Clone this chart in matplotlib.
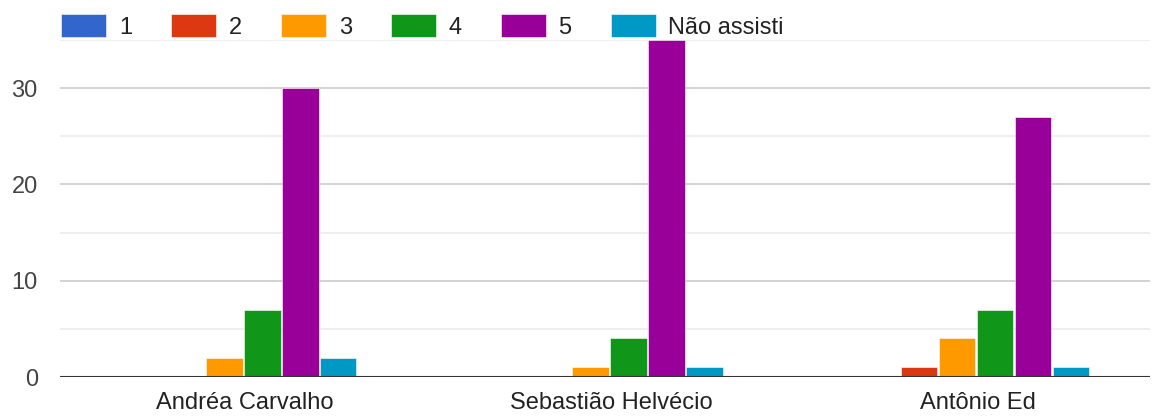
import numpy as np
import matplotlib
matplotlib.use('Agg')
import matplotlib.pyplot as plt
from matplotlib.ticker import MultipleLocator

# respostas por palestrante
palestrantes = ['Andréa Carvalho', 'Sebastião Helvécio', 'Antônio Ed']
notas = ['1', '2', '3', '4', '5', 'Não assisti']
contagens = {
    '1': [0, 0, 0],
    '2': [0, 0, 1],
    '3': [2, 1, 4],
    '4': [7, 4, 7],
    '5': [30, 35, 27],
    'Não assisti': [2, 1, 1],
}
cores = ['#3366cc', '#dc3912', '#ff9900', '#109618', '#990099', '#0099c6']

plt.rcParams['font.family'] = ['Liberation Sans', 'DejaVu Sans']

fig = plt.figure(figsize=(11.59, 4.16), dpi=100)
ax = fig.add_axes([60 / 1159, 1 - 377 / 416, 1090 / 1159, 337 / 416])

x = np.arange(len(palestrantes))
passo = 0.1037
largura = 0.1
desvio = -0.005  # grupos levemente deslocados para a esquerda
for i, nota in enumerate(notas):
    ax.bar(x + desvio + (i - 2.5) * passo, contagens[nota], width=largura,
           color=cores[i], edgecolor='white', linewidth=0.4, label=nota, zorder=3)

ax.set_xlim(-0.505, 2.47)
ax.set_ylim(0, 35)
ax.yaxis.set_major_locator(MultipleLocator(10))
ax.yaxis.set_minor_locator(MultipleLocator(5))
ax.grid(axis='y', which='major', color='#cccccc', linewidth=1.2, zorder=0)
ax.grid(axis='y', which='minor', color='#ebebeb', linewidth=1.2, zorder=0)
ax.axhline(0, color='#333333', linewidth=1.5, zorder=4)

for s in ax.spines.values():
    s.set_visible(False)

ax.set_xticks(x)
ax.set_xticklabels(palestrantes)
ax.tick_params(axis='x', length=0, pad=11, labelsize=17, labelcolor='#222222')
ax.tick_params(axis='y', which='both', length=0, pad=16, labelsize=17, labelcolor='#444444')

ax.legend(loc='upper left', bbox_to_anchor=(61 / 1159, 1 - 14 / 416),
          bbox_transform=fig.transFigure, ncol=6, frameon=False, fontsize=17,
          handlelength=1.9, handleheight=1.12, handletextpad=0.55,
          columnspacing=1.65, borderpad=0, borderaxespad=0, labelcolor='#222222')

fig.savefig('out.png', dpi=100)
